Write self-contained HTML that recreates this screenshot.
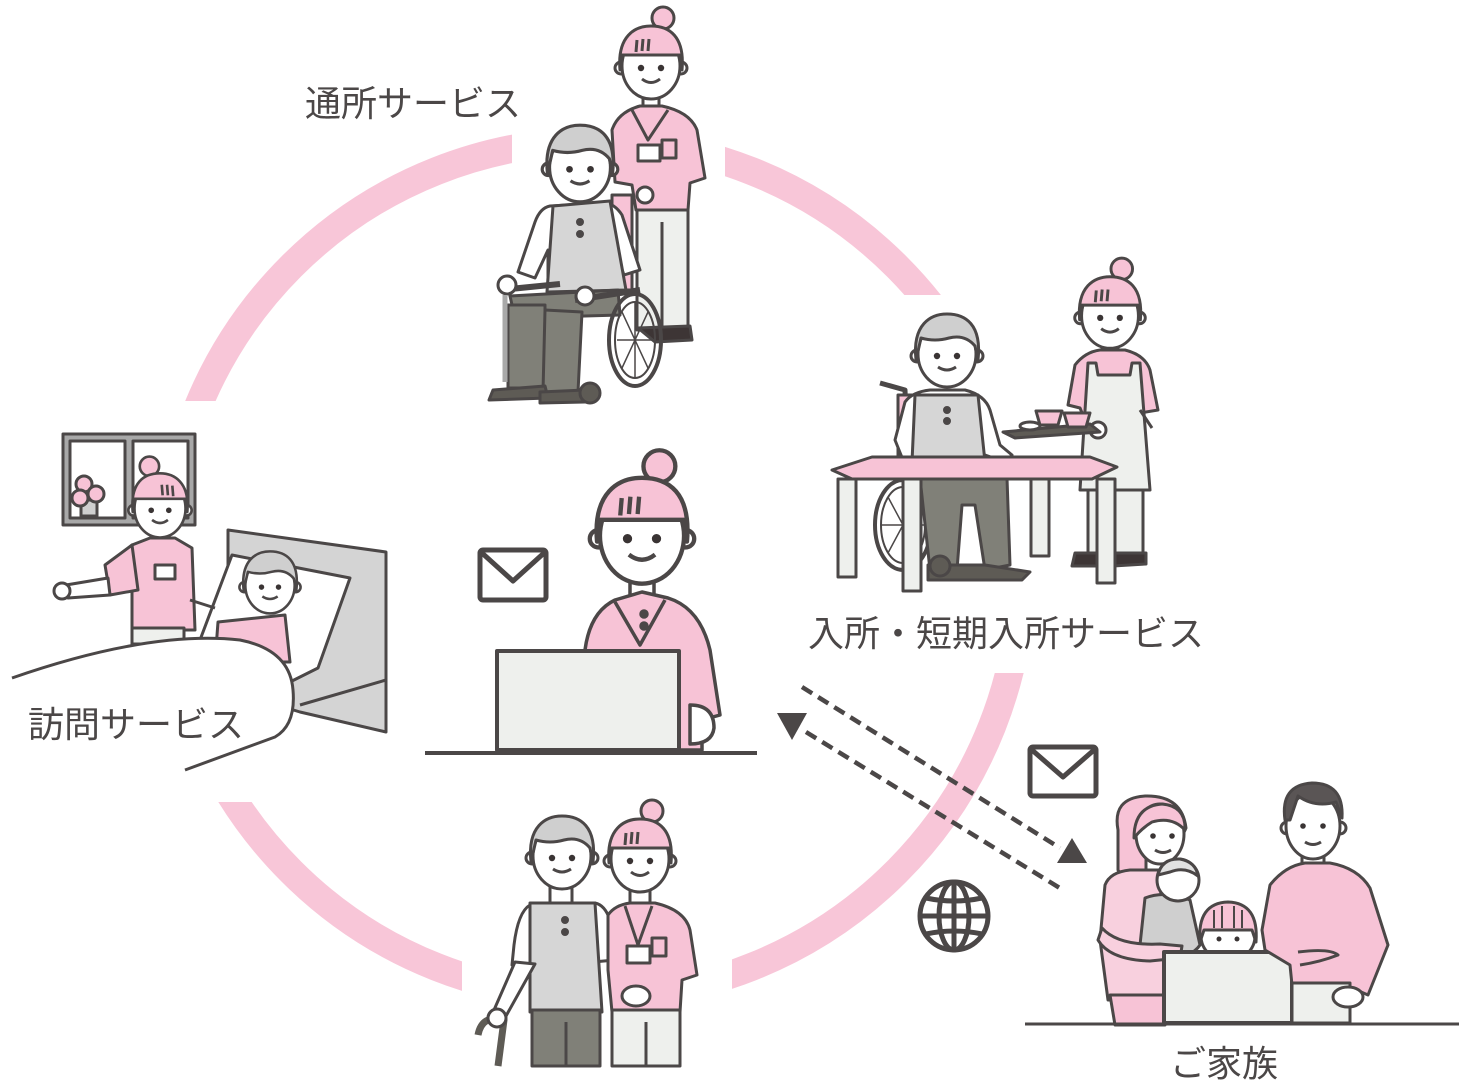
<!DOCTYPE html>
<html><head><meta charset="utf-8"><style>
html,body{margin:0;padding:0;background:#fff;}
svg{display:block;}
text{font-family:"Liberation Sans","Noto Sans CJK JP",sans-serif;fill:#4b4747;font-size:36px;}
</style></head><body>
<svg width="1459" height="1084" viewBox="0 0 1459 1084" xmlns="http://www.w3.org/2000/svg">
<defs>
<clipPath id="ringclip">
<rect x="0" y="0" width="512" height="401"/>
<rect x="725" y="0" width="734" height="295"/>
<rect x="732" y="673" width="727" height="411"/>
<rect x="0" y="802" width="462" height="282"/>
</clipPath>
<g id="cg" stroke="#4b4747" stroke-width="3" stroke-linejoin="round">
<circle cx="12" cy="-44" r="11" fill="#F7C3D6"/>
<circle cx="-30" cy="6" r="6" fill="#fff"/>
<circle cx="30" cy="6" r="6" fill="#fff"/>
<ellipse cx="0" cy="4" rx="29" ry="33" fill="#fff"/>
<path d="M-31,8 C-34,-26 -16,-36 0,-36 C18,-36 34,-26 31,8 L29,-7 L-29,-7 Z" fill="#F7C3D6"/>
<path d="M-14,-22 L-15,-10 M-8,-23 L-9,-11 M-2,-23 L-3,-11" fill="none"/>
<circle cx="-10" cy="6" r="3.2" fill="#3a3434" stroke="none"/>
<circle cx="10" cy="6" r="3.2" fill="#3a3434" stroke="none"/>
<path d="M-9,17 Q0,24 9,17" fill="none"/>
</g>
<g id="eld" stroke="#4b4747" stroke-width="3" stroke-linejoin="round">
<circle cx="-30" cy="6" r="6" fill="#fff"/>
<circle cx="30" cy="6" r="6" fill="#fff"/>
<ellipse cx="0" cy="4" rx="29" ry="33" fill="#fff"/>
<path d="M-31,10 C-35,-26 -16,-36 0,-36 C18,-36 35,-26 31,10 L28,-4 Q18,-16 2,-12 Q-12,-8 -26,-12 Z" fill="#cfcfcf"/>
<circle cx="-10" cy="6" r="3.2" fill="#3a3434" stroke="none"/>
<circle cx="10" cy="6" r="3.2" fill="#3a3434" stroke="none"/>
<path d="M-9,17 Q0,23 9,17" fill="none"/>
</g>
</defs>

<!-- ring -->
<circle cx="594" cy="569" r="428" fill="none" stroke="#F8C6D8" stroke-width="28" clip-path="url(#ringclip)"/>

<!-- dashed connectors -->
<g stroke="#4b4747" stroke-width="4.5" stroke-dasharray="12 7" fill="none">
<line x1="802" y1="687" x2="1060" y2="848"/>
<line x1="806" y1="732" x2="1063" y2="890"/>
</g>
<polygon points="1087,863 1057,863 1072,838" fill="#4b4747"/>
<polygon points="777,713 807,713 792,740" fill="#4b4747"/>

<!-- envelopes -->
<g fill="none" stroke="#4b4747" stroke-width="5" stroke-linejoin="round">
<rect x="480" y="550" width="66" height="50" rx="3"/>
<path d="M482,553 L513,581 L544,553"/>
<rect x="1030" y="747" width="66" height="49" rx="3"/>
<path d="M1032,750 L1063,777 L1094,750"/>
</g>

<!-- globe -->
<g fill="none" stroke="#4b4747" stroke-width="5">
<circle cx="954" cy="916" r="34"/>
<ellipse cx="954" cy="916" rx="15" ry="34"/>
<line x1="954" y1="882" x2="954" y2="950"/>
<line x1="920" y1="916" x2="988" y2="916"/>
<path d="M926,898 Q954,904 982,898"/>
<path d="M926,934 Q954,928 982,934"/>
</g>

<!-- ===== Fig1 top: wheelchair ===== -->
<g stroke="#4b4747" stroke-width="3" stroke-linejoin="round">
<rect x="637" y="205" width="51" height="125" fill="#eef0ed"/>
<line x1="662" y1="222" x2="662" y2="328"/>
<path d="M638,328 L690,326 L692,340 L655,342 Z" fill="#3d3535"/>
<rect x="643" y="92" width="16" height="18" fill="#fff"/>
<path d="M612,130 Q618,112 640,106 L662,106 Q690,112 697,130 L705,178 L690,183 L688,210 L636,210 L632,185 L615,182 Z" fill="#F7C3D6"/>
<path d="M632,110 L648,140 L668,110" fill="none"/>
<rect x="638" y="145" width="22" height="16" fill="#fff"/>
<rect x="662" y="140" width="14" height="18" fill="none"/>
<circle cx="645" cy="195" r="8" fill="#fff"/>
</g>
<use href="#cg" transform="translate(651,62)"/>
<g stroke="#4b4747" stroke-width="3" stroke-linejoin="round">
<rect x="612" y="195" width="20" height="95" fill="#F7C3D6"/>
<path d="M550,206 Q540,208 535,222 L518,272 L535,278 L548,250 L548,288 L615,288 L615,250 L624,275 L640,270 L622,215 Q615,204 605,203 Z" fill="#fff"/>
<path d="M553,206 L610,201 L626,290 L547,292 Z" fill="#d6d6d6"/>
<circle cx="580" cy="222" r="2.5" fill="#4b4747"/>
<circle cx="580" cy="234" r="2.5" fill="#4b4747"/>
<path d="M510,296 L618,290 L620,315 L515,318 Z" fill="#808078"/>
<path d="M508,305 L545,305 L545,388 L508,388 Z" fill="#808078"/>
<path d="M545,310 L582,312 L578,392 L543,392 Z" fill="#808078"/>
<path d="M493,390 L545,386 L548,398 L489,400 Z" fill="#5e5b55"/>
<path d="M540,392 L585,390 L585,402 L540,403 Z" fill="#5e5b55"/>
<path d="M500,290 L560,284" stroke-width="6"/>
<path d="M575,300 L640,290" stroke-width="6"/>
<circle cx="507" cy="285" r="9" fill="#fff"/>
<circle cx="585" cy="296" r="9" fill="#fff"/>
<line x1="505" y1="295" x2="505" y2="382" stroke="#a9a9a9" stroke-width="5"/>
<ellipse cx="635" cy="340" rx="26" ry="46" fill="none" stroke-width="4"/>
<ellipse cx="635" cy="340" rx="20" ry="38" fill="none" stroke-width="2"/>
<path d="M635,302 L635,378 M617,340 L653,340 M622,312 L648,368 M648,312 L622,368" stroke-width="1.5" fill="none"/>
<circle cx="590" cy="393" r="10" fill="#5e5b55"/>
</g>
<use href="#eld" transform="translate(580,163) scale(1.05)"/>

<!-- ===== Fig2 right: dining ===== -->
<g stroke="#4b4747" stroke-width="3" stroke-linejoin="round">
<rect x="1088" y="485" width="55" height="70" fill="#eef0ed"/>
<line x1="1115" y1="495" x2="1115" y2="552"/>
<path d="M1075,553 L1112,553 L1112,566 L1072,566 Z" fill="#3d3535"/>
<path d="M1115,553 L1146,553 L1146,564 L1113,566 Z" fill="#3d3535"/>
<rect x="1102" y="338" width="16" height="16" fill="#fff"/>
<path d="M1075,365 Q1085,352 1100,350 L1125,350 Q1145,355 1150,370 L1158,410 L1140,413 L1138,420 L1085,420 L1080,408 L1068,405 Z" fill="#F7C3D6"/>
<path d="M1088,363 L1096,363 L1098,375 L1130,375 L1132,363 L1140,363 L1150,490 L1080,490 Z" fill="#eef0ed"/>
<path d="M1140,410 L1152,428" fill="none"/>
<circle cx="1098" cy="430" r="8" fill="#fff"/>
<path d="M1003,432 L1090,424 L1100,432 L1015,438 Z" fill="#5e5b55"/>
<path d="M1036,411 L1062,411 L1058,425 L1040,425 Z" fill="#F7C3D6"/>
<path d="M1064,413 L1090,413 L1086,427 L1068,427 Z" fill="#F7C3D6"/>
<ellipse cx="1030" cy="426" rx="10" ry="4" fill="#fff"/>
</g>
<use href="#cg" transform="translate(1110,312) scale(0.98)"/>
<g stroke="#4b4747" stroke-width="3" stroke-linejoin="round">
<path d="M880,383 L905,390 L908,470" fill="none" stroke-width="5"/>
<rect x="898" y="395" width="16" height="70" fill="#F7C3D6"/>
<ellipse cx="903" cy="525" rx="28" ry="45" fill="#fff" stroke-width="4"/>
<ellipse cx="903" cy="525" rx="22" ry="38" fill="none" stroke-width="2"/>
<path d="M903,487 L903,563 M881,525 L925,525 M888,497 L918,553 M918,497 L888,553" stroke-width="1.5"/>
<path d="M905,402 Q912,392 930,390 L965,390 Q985,395 990,410 L1000,445 L1012,455 L1005,462 L985,455 L985,465 L905,465 L895,440 Z" fill="#fff"/>
<path d="M915,395 L978,395 L985,462 L912,462 Z" fill="#d6d6d6"/>
<circle cx="947" cy="410" r="2.5" fill="#4b4747"/>
<circle cx="947" cy="421" r="2.5" fill="#4b4747"/>
<path d="M920,478 L1007,478 L1010,565 L985,570 L975,505 L962,505 L957,570 L930,570 Z" fill="#808078"/>
<path d="M928,565 L985,565 L1030,572 L1022,580 L928,580 Z" fill="#5e5b55"/>
<circle cx="940" cy="566" r="10" fill="#5e5b55"/>
<path d="M832,470 L872,457 L1090,457 L1117,467 L1092,479 L852,479 Z" fill="#F7C3D6"/>
<rect x="838" y="479" width="18" height="98" fill="#eef0ed"/>
<rect x="903" y="479" width="18" height="112" fill="#eef0ed"/>
<rect x="1031" y="479" width="18" height="77" fill="#eef0ed"/>
<rect x="1097" y="479" width="18" height="104" fill="#eef0ed"/>
</g>
<use href="#eld" transform="translate(947,350)"/>

<!-- ===== Fig3 left: bed ===== -->
<g stroke="#4b4747" stroke-width="3" stroke-linejoin="round">
<rect x="63" y="434" width="132" height="91" fill="#a8a8a8"/>
<rect x="70" y="441" width="55" height="77" fill="#fff"/>
<rect x="133" y="441" width="55" height="77" fill="#fff"/>
<rect x="81" y="500" width="16" height="16" fill="#cfcfcf"/>
<circle cx="84" cy="484" r="8" fill="#F7C3D6"/>
<circle cx="80" cy="498" r="8" fill="#F7C3D6"/>
<circle cx="96" cy="494" r="8" fill="#F7C3D6"/>
<path d="M228,530 L386,552 L386,732 L300,712 L228,690 Z" fill="#d4d4d4"/>
<path d="M300,705 L386,680" fill="none"/>
<path d="M200,640 L232,555 L350,578 L318,668 L290,682 Z" fill="#fff"/>
<path d="M215,662 L218,622 L285,615 L290,662 Z" fill="#F7C3D6"/>
<path d="M132,545 L150,538 L175,538 L192,548 L195,630 L132,630 Z" fill="#F7C3D6"/>
<path d="M105,565 L132,545 L138,590 L110,595 Z" fill="#F7C3D6"/>
<path d="M108,578 L66,585 L68,598 L110,595 Z" fill="#fff"/>
<circle cx="62" cy="591" r="8" fill="#fff"/>
<rect x="155" y="565" width="20" height="14" fill="#fff"/>
<path d="M190,600 L215,608" fill="none"/>
<rect x="132" y="628" width="52" height="16" fill="#eef0ed"/>
<path d="M0,690 L12,678 Q150,630 240,640 Q290,650 293,690 Q296,725 275,737 L185,770 L0,775 Z" fill="#fff" stroke="none"/>
<path d="M12,678 Q150,630 240,640 Q290,650 293,690 Q296,725 275,737 L185,770" fill="none"/>
</g>
<use href="#cg" transform="translate(160,505) scale(-0.88,0.88)"/>
<use href="#eld" transform="translate(270,582) scale(0.85)"/>

<!-- ===== Fig4 center ===== -->
<g stroke="#4b4747" stroke-width="3.5" stroke-linejoin="round">
<rect x="630" y="575" width="24" height="25" fill="#fff"/>
<path d="M582,750 L585,650 Q590,612 615,600 L642,592 L668,598 Q700,608 710,650 L720,715 L702,720 L702,750 Z" fill="#F7C3D6"/>
<path d="M615,602 L640,645 L665,600" fill="none"/>
<circle cx="644" cy="614" r="3" fill="#4b4747"/>
<circle cx="644" cy="626" r="3" fill="#4b4747"/>
<path d="M690,705 Q714,705 714,728 Q712,744 690,744 Z" fill="#fff"/>
<rect x="497" y="651" width="182" height="99" fill="#eef0ed" stroke-width="4"/>
<line x1="425" y1="753" x2="757" y2="753" stroke-width="4"/>
</g>
<use href="#cg" transform="translate(642,530) scale(1.45)"/>

<!-- ===== Fig5 bottom ===== -->
<g stroke="#4b4747" stroke-width="3" stroke-linejoin="round">
<rect x="550" y="880" width="22" height="25" fill="#fff"/>
<rect x="630" y="882" width="20" height="24" fill="#fff"/>
<path d="M530,905 Q518,912 514,945 L512,965 L535,965 L540,930 L590,930 L593,962 L615,960 L610,920 Q605,905 595,903 Z" fill="#fff"/>
<path d="M530,903 L595,903 L602,1012 L530,1012 Z" fill="#d6d6d6"/>
<circle cx="565" cy="920" r="2.5" fill="#4b4747"/>
<circle cx="565" cy="932" r="2.5" fill="#4b4747"/>
<rect x="532" y="1010" width="68" height="56" fill="#808078"/>
<line x1="566" y1="1022" x2="566" y2="1066"/>
<path d="M515,962 L535,964 L506,1016 L494,1010 Z" fill="#fff"/>
<path d="M478,1035 Q482,1014 504,1020 L498,1066" fill="none" stroke="#5e5b55" stroke-width="7"/>
<circle cx="497" cy="1018" r="9" fill="#fff"/>
<path d="M608,915 Q615,905 630,903 L655,903 Q685,910 690,930 L697,975 L682,980 L680,1012 L612,1012 L608,970 Z" fill="#F7C3D6"/>
<path d="M625,906 L638,945 L652,906" fill="none"/>
<rect x="627" y="946" width="23" height="17" fill="#fff"/>
<rect x="652" y="938" width="14" height="18" fill="none"/>
<rect x="612" y="1010" width="68" height="56" fill="#eef0ed"/>
<line x1="646" y1="1022" x2="646" y2="1066"/>
<ellipse cx="636" cy="996" rx="14" ry="10" fill="#fff"/>
</g>
<use href="#eld" transform="translate(562,852)"/>
<use href="#cg" transform="translate(640,855)"/>

<!-- ===== Fig6 family ===== -->
<g stroke="#4b4747" stroke-width="3" stroke-linejoin="round">
<path d="M1118,830 Q1112,798 1145,796 Q1182,795 1186,828 L1170,862 L1140,880 L1128,886 L1118,870 Z" fill="#F7C3D6"/>
<rect x="1146" y="858" width="20" height="18" fill="#fff"/>
<ellipse cx="1160" cy="834" rx="24" ry="30" fill="#fff"/>
<path d="M1134,838 Q1134,806 1162,804 Q1186,806 1185,830 Q1172,816 1152,822 Q1142,828 1134,838 Z" fill="#F7C3D6"/>
<circle cx="1153" cy="836" r="2.8" fill="#3a3434" stroke="none"/>
<circle cx="1172" cy="836" r="2.8" fill="#3a3434" stroke="none"/>
<path d="M1155,850 Q1163,855 1171,850" fill="none"/>
<path d="M1105,885 Q1110,872 1130,870 L1160,870 L1165,1000 L1108,1000 L1100,940 Z" fill="#f8d0de"/>
<path d="M1110,995 L1165,995 L1165,1025 L1115,1025 Z" fill="#F7C3D6"/>
<path d="M1145,898 Q1165,890 1190,900 L1200,945 Q1190,960 1160,958 L1140,945 Z" fill="#cfcfcf"/>
<circle cx="1178" cy="880" r="21" fill="#fff"/>
<path d="M1158,875 Q1162,858 1180,859 Q1196,862 1198,876 Q1185,866 1170,872 Z" fill="#e2e2e2"/>
<path d="M1102,928 Q1118,946 1160,944 L1182,946 L1180,958 L1150,961 Q1110,960 1098,940 Z" fill="#f8d0de"/>
<ellipse cx="1228" cy="936" rx="27" ry="25" fill="#fff"/>
<path d="M1200,942 Q1197,903 1228,902 Q1259,903 1256,942 L1252,930 L1204,930 Z" fill="#F7C3D6"/>
<path d="M1214,910 L1214,928 M1222,906 L1222,928 M1234,906 L1234,928 M1242,910 L1242,928" fill="none" stroke-width="2"/>
<circle cx="1219" cy="939" r="2.5" fill="#3a3434" stroke="none"/>
<circle cx="1237" cy="939" r="2.5" fill="#3a3434" stroke="none"/>
<rect x="1164" y="952" width="128" height="71" fill="#eef0ed" stroke-width="4"/>
<rect x="1302" y="850" width="22" height="18" fill="#fff"/>
<path d="M1270,885 Q1285,866 1305,863 L1330,863 Q1358,868 1370,888 L1388,945 L1368,995 L1345,985 L1292,985 L1290,965 L1265,950 L1262,930 Z" fill="#F7C3D6"/>
<path d="M1298,952 Q1330,948 1338,955 Q1320,962 1300,965" fill="none"/>
<rect x="1292" y="983" width="58" height="40" fill="#eef0ed"/>
<ellipse cx="1348" cy="997" rx="15" ry="10" fill="#fff"/>
<circle cx="1287" cy="828" r="6" fill="#fff"/>
<circle cx="1340" cy="828" r="6" fill="#fff"/>
<ellipse cx="1313" cy="826" rx="27" ry="33" fill="#fff"/>
<path d="M1285,820 Q1280,785 1312,783 Q1344,783 1342,818 L1336,802 Q1315,808 1298,796 L1290,820 Z" fill="#5a5555"/>
<circle cx="1303" cy="826" r="2.8" fill="#3a3434" stroke="none"/>
<circle cx="1323" cy="826" r="2.8" fill="#3a3434" stroke="none"/>
<path d="M1305,842 Q1313,847 1321,842" fill="none"/>
<line x1="1025" y1="1024" x2="1459" y2="1024" stroke-width="3"/>
</g>

<!-- labels (on top) -->
<text x="305" y="116">通所サービス</text>
<text x="808" y="646">入所・短期入所サービス</text>
<text x="28" y="737">訪問サービス</text>
<text x="1170" y="1076">ご家族</text>
</svg>
</body></html>
